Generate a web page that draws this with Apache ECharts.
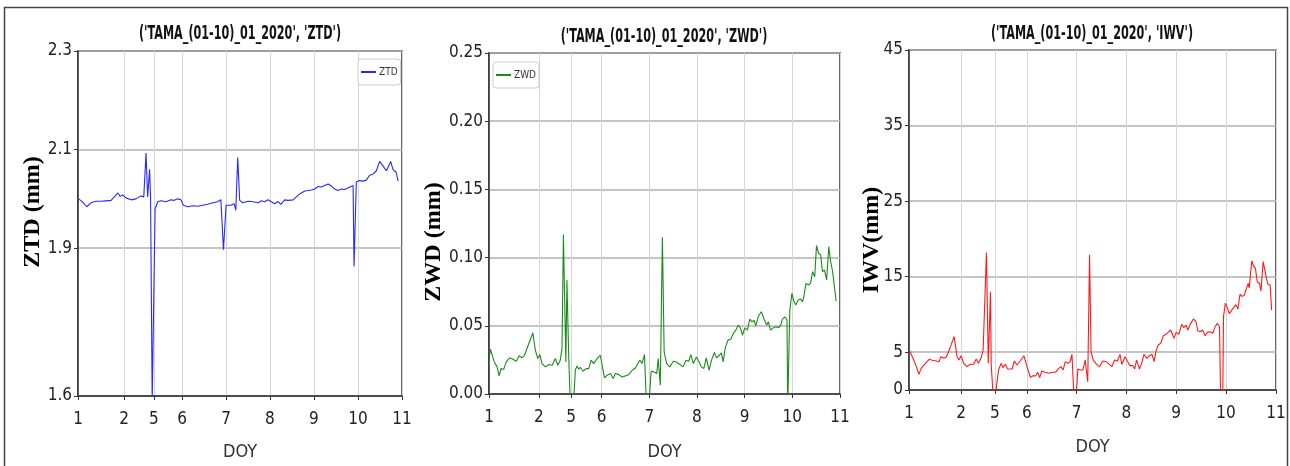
<!DOCTYPE html>
<html>
<head>
<meta charset="utf-8">
<script src="https://cdn.jsdelivr.net/npm/echarts@6/dist/echarts.min.js"></script>
<style>
  html, body { margin: 0; padding: 0; background: #fff; }
  #main { width: 1290px; height: 466px; }
</style>
</head>
<body>
<div id="main"></div>
<script>
// x is the position along the DOY axis (0..100 of the span), ticks are unevenly spaced
var xTickPos = [0, 14.2, 23.4, 32.1, 45.7, 59.2, 72.8, 86.4, 100];
var xTickLabels = ['1', '2', '5', '6', '7', '8', '9', '10', '11'];

var ztdTicks = [1.6, 1.9, 2.1, 2.3];
var iwvTicks = [0, 5, 15, 25, 35, 45];

var titles = ["('TAMA_(01-10)_01_2020', 'ZTD')", "('TAMA_(01-10)_01_2020', 'ZWD')", "('TAMA_(01-10)_01_2020', 'IWV')"];
var yNames = ['ZTD (mm)', 'ZWD (mm)', 'IWV(mm)'];

var ztdSeries = [
  [0.2, 2.000], [1.4, 1.994], [2.7, 1.984], [4.0, 1.992], [5.6, 1.995], [7.1, 1.995], [8.6, 1.996],
  [10.2, 1.997], [11.2, 2.004], [12.3, 2.012], [13.0, 2.005], [13.8, 2.008], [14.8, 2.002], [16.4, 1.998],
  [17.9, 2.000], [19.4, 2.006], [20.3, 2.004], [21.0, 2.093], [21.5, 2.004], [22.1, 2.060], [22.4, 2.000],
  [22.9, 1.590], [23.8, 1.980], [24.6, 1.994], [25.6, 1.996], [27.2, 1.994], [28.7, 1.998], [29.7, 1.997],
  [30.8, 2.000], [31.8, 1.998], [32.5, 1.987], [33.9, 1.984], [35.4, 1.986], [36.9, 1.985], [38.5, 1.987],
  [40.0, 1.989], [41.6, 1.992], [43.1, 1.994], [44.1, 1.998], [44.4, 1.960], [44.9, 1.897], [45.7, 1.987],
  [47.2, 1.987], [48.2, 1.990], [48.7, 1.977], [49.3, 2.084], [49.9, 1.997], [50.9, 1.992], [52.5, 1.995],
  [54.0, 1.994], [55.6, 1.992], [56.6, 1.996], [57.6, 1.994], [58.6, 1.998], [59.7, 1.994], [60.7, 1.990],
  [61.7, 1.995], [62.6, 1.989], [63.8, 1.998], [64.8, 1.997], [66.4, 1.998], [67.4, 2.004], [68.4, 2.010],
  [70.0, 2.016], [71.0, 2.017], [72.0, 2.018], [73.1, 2.020], [74.1, 2.025], [75.1, 2.024], [76.1, 2.027],
  [77.2, 2.030], [78.2, 2.026], [79.2, 2.020], [80.2, 2.017], [81.3, 2.020], [82.3, 2.019], [83.9, 2.024],
  [84.9, 2.027], [85.2, 1.863], [85.9, 2.034], [86.9, 2.037], [88.0, 2.036], [89.0, 2.038], [90.0, 2.048],
  [91.0, 2.050], [92.1, 2.057], [93.1, 2.076], [94.1, 2.067], [95.2, 2.057], [96.5, 2.076], [97.2, 2.060],
  [98.2, 2.054], [98.8, 2.036]
];

var zwdSeries = [
  [0.2, 0.0284], [0.4, 0.0329], [1.5, 0.0235], [2.3, 0.0199], [2.9, 0.0133], [3.4, 0.0186], [4.2, 0.0181],
  [4.9, 0.0235], [5.9, 0.0265], [6.8, 0.0255], [7.8, 0.0240], [8.6, 0.0280], [9.4, 0.0265], [10.1, 0.0284],
  [10.6, 0.0272], [11.6, 0.0387], [12.5, 0.0449], [13.2, 0.0321], [13.9, 0.0260], [14.5, 0.0289], [15.1, 0.0223],
  [16.1, 0.0199], [17.0, 0.0216], [18.0, 0.0211], [18.9, 0.0260], [19.6, 0.0211], [20.3, 0.0248], [20.8, 0.0333],
  [21.2, 0.1170], [21.9, 0.0235], [22.2, 0.0836], [22.7, 0.0284], [23.2, -0.0100], [24.0, -0.0100], [24.6, 0.0176],
  [25.1, 0.0206], [25.6, 0.0181], [26.0, 0.0196], [26.8, 0.0167], [27.7, 0.0186], [28.4, 0.0186], [29.1, 0.0248],
  [29.8, 0.0223], [30.8, 0.0260], [31.7, 0.0284], [32.2, 0.0284], [32.9, 0.0118], [33.6, 0.0137], [34.6, 0.0150],
  [35.4, 0.0113], [36.0, 0.0150], [37.0, 0.0142], [37.9, 0.0125], [38.9, 0.0133], [39.8, 0.0142], [40.8, 0.0174],
  [41.7, 0.0191], [42.4, 0.0223], [43.0, 0.0248], [43.6, 0.0223], [44.3, 0.0289], [44.9, -0.0100], [45.5, -0.0100],
  [46.2, 0.0167], [47.0, 0.0162], [47.8, 0.0150], [48.2, 0.0260], [48.8, 0.0064], [49.4, 0.1150], [49.9, 0.0309],
  [50.6, 0.0223], [51.5, 0.0199], [52.5, 0.0240], [53.4, 0.0235], [54.4, 0.0216], [55.3, 0.0199], [56.1, 0.0248],
  [56.9, 0.0240], [57.5, 0.0289], [58.2, 0.0223], [59.1, 0.0272], [59.9, 0.0235], [60.5, 0.0199], [61.2, 0.0186],
  [61.9, 0.0265], [62.7, 0.0174], [63.4, 0.0248], [64.2, 0.0304], [64.8, 0.0265], [65.6, 0.0284], [66.2, 0.0301],
  [66.7, 0.0235], [67.3, 0.0338], [68.1, 0.0395], [68.9, 0.0402], [69.6, 0.0444], [70.3, 0.0468], [71.0, 0.0505],
  [71.7, 0.0480], [72.2, 0.0431], [72.9, 0.0485], [73.6, 0.0468], [74.3, 0.0549], [74.9, 0.0529], [75.5, 0.0542],
  [76.0, 0.0500], [76.8, 0.0574], [77.6, 0.0603], [78.3, 0.0554], [79.1, 0.0505], [79.6, 0.0529], [80.2, 0.0468],
  [81.0, 0.0485], [81.8, 0.0493], [82.5, 0.0485], [83.1, 0.0505], [83.6, 0.0549], [84.3, 0.0566], [84.9, 0.0542],
  [85.1, -0.0100], [85.5, -0.0100], [85.7, 0.0615], [86.3, 0.0738], [86.9, 0.0676], [87.4, 0.0652], [88.1, 0.0689],
  [88.8, 0.0696], [89.3, 0.0676], [89.7, 0.0713], [90.3, 0.0811], [91.0, 0.0799], [91.6, 0.0811], [92.2, 0.0897],
  [92.8, 0.0860], [93.3, 0.1088], [93.9, 0.1032], [94.5, 0.1020], [95.0, 0.0897], [95.6, 0.0909], [96.2, 0.0836],
  [96.8, 0.1080], [97.3, 0.0975], [97.9, 0.0897], [98.4, 0.0885], [98.9, 0.0681]
];

var iwvSeries = [
  [0.2, 5.16], [0.5, 5.30], [1.3, 3.97], [2.0, 3.09], [2.7, 2.07], [3.3, 2.87], [3.8, 2.65], [4.5, 3.53],
  [5.5, 4.06], [6.3, 3.93], [7.4, 3.84], [8.2, 3.75], [8.7, 4.41], [9.5, 4.19], [10.2, 4.37], [10.7, 4.19],
  [11.3, 5.74], [12.3, 7.06], [13.1, 4.41], [13.6, 3.97], [14.2, 4.54], [14.9, 3.53], [15.8, 3.09], [16.7, 3.40],
  [17.6, 3.40], [18.3, 4.10], [18.9, 3.53], [19.6, 4.19], [20.2, 5.29], [21.1, 18.2], [21.6, 3.53], [22.2, 13.0],
  [22.4, 3.30], [22.9, -0.5], [23.6, -0.5], [24.4, 2.65], [25.1, 3.53], [25.6, 2.96], [26.2, 3.40], [26.9, 2.78],
  [28.1, 2.78], [28.7, 3.84], [29.4, 3.31], [30.3, 3.84], [31.3, 4.54], [31.8, 4.63], [32.3, 2.87], [33.1, 1.63],
  [33.8, 1.90], [34.5, 1.85], [35.1, 2.34], [35.6, 1.63], [36.2, 2.51], [37.1, 2.34], [38.1, 2.21], [39.0, 2.34],
  [39.9, 2.34], [40.8, 2.87], [41.4, 3.09], [42.0, 2.65], [42.6, 3.75], [43.2, 3.53], [43.9, 3.75], [44.4, 4.72],
  [44.9, -0.5], [45.6, -0.5], [46.0, 2.78], [46.7, 2.65], [47.4, 2.65], [48.0, 3.97], [48.7, 1.10], [49.2, 17.9],
  [49.6, 5.07], [50.2, 3.97], [51.1, 3.40], [51.9, 3.09], [52.8, 3.84], [53.7, 3.75], [54.6, 3.40], [55.3, 3.09],
  [56.0, 3.97], [56.8, 3.84], [57.5, 4.72], [58.0, 3.40], [58.9, 4.41], [59.5, 3.84], [60.2, 3.22], [61.0, 3.22],
  [61.5, 2.78], [62.0, 3.97], [62.8, 2.78], [63.4, 3.53], [64.0, 4.72], [64.8, 4.19], [65.5, 4.54], [66.2, 4.72],
  [66.8, 3.75], [67.3, 5.16], [67.9, 5.96], [68.6, 6.18], [69.3, 7.19], [70.0, 7.37], [70.6, 7.63], [71.3, 7.94],
  [72.2, 6.84], [72.8, 7.63], [73.5, 7.37], [74.3, 8.69], [74.9, 8.25], [75.5, 8.60], [76.0, 7.94], [76.6, 8.69],
  [77.5, 9.40], [78.2, 9.04], [78.7, 7.81], [79.3, 7.72], [80.0, 7.94], [80.7, 7.19], [81.3, 7.63], [82.0, 7.72],
  [82.8, 7.50], [83.4, 8.38], [84.0, 8.82], [84.6, 8.38], [84.9, -0.5], [85.5, -0.5], [85.7, 9.71], [86.2, 11.5],
  [86.8, 10.8], [87.3, 10.1], [88.0, 10.6], [88.6, 11.0], [89.1, 11.3], [89.6, 10.7], [90.2, 12.7], [90.7, 12.4],
  [91.3, 12.5], [91.8, 12.6], [92.4, 14.1], [92.7, 13.5], [93.4, 17.1], [93.8, 16.5], [94.4, 16.1], [94.9, 14.3],
  [95.5, 14.1], [95.9, 13.1], [96.5, 17.0], [97.3, 15.0], [97.8, 14.0], [98.4, 13.9], [98.8, 10.6]
];

var tickFont = "'DejaVu Sans Condensed', 'DejaVu Sans', sans-serif";

function xAxisFor(idx, gap) {
    return {
        type: 'value', gridIndex: idx, min: 0, max: 100,
        axisLine: { show: true, onZero: false, lineStyle: { color: '#333', width: 1.5 } },
        axisTick: { show: true, length: 4, customValues: xTickPos, lineStyle: { color: '#333' } },
        axisLabel: {
            customValues: xTickPos, margin: 15, color: '#222', fontSize: 17, fontFamily: tickFont,
            formatter: function(v) {
                for (var i = 0; i < xTickPos.length; i++) {
                    if (Math.abs(xTickPos[i] - v) < 0.01) return xTickLabels[i];
                }
                return '';
            }
        },
        splitLine: { show: true, lineStyle: { color: '#d6d6d6', width: 1 } },
        name: 'DOY', nameLocation: 'middle', nameGap: gap,
        nameTextStyle: { color: '#333', fontSize: 18, fontFamily: tickFont }
    };
}

function yAxisFor(idx, opts) {
    var ax = {
        type: 'value', gridIndex: idx, min: opts.min, max: opts.max,
        axisLine: { show: true, onZero: false, lineStyle: { color: '#333', width: 1.5 } },
        axisTick: { show: true, length: 4, lineStyle: { color: '#333' } },
        axisLabel: { margin: 6, color: '#222', fontSize: 17, fontFamily: tickFont },
        splitLine: { show: true, lineStyle: { color: '#b0b0b0', width: 1.5 } }
    };
    if (opts.ticks) {
        ax.axisTick.customValues = opts.ticks;
        ax.axisLabel.customValues = opts.ticks;
    }
    if (opts.interval) ax.interval = opts.interval;
    if (opts.formatter) ax.axisLabel.formatter = opts.formatter;
    return ax;
}

var grids = [
    { left: 78, top: 51, width: 324, height: 345 },
    { left: 489, top: 53, width: 351, height: 345 },
    { left: 909, top: 50, width: 367, height: 340 }
];

grids.forEach(function(g) {
    g.show = true;
    g.borderColor = '#333';
    g.borderWidth = 1.5;
    g.backgroundColor = '#fff';
});

function lineSeries(name, idx, data, color) {
    return {
        name: name, type: 'line', xAxisIndex: idx, yAxisIndex: idx,
        data: data, showSymbol: false, symbol: 'none', clip: true,
        lineStyle: { color: color, width: 1.1 }, itemStyle: { color: color },
        animation: false
    };
}

var legendBase = {
    orient: 'vertical', icon: 'rect', itemWidth: 15, itemHeight: 2, itemGap: 4,
    borderColor: '#ccc', borderWidth: 1, borderRadius: 3, padding: [8, 3, 8, 3],
    backgroundColor: '#fff',
    textStyle: { fontSize: 10, color: '#333', fontFamily: tickFont, padding: [0, 0, 0, -2] }
};

function titleText(i, x, y) {
    return {
        type: 'text', x: x, y: y, scaleX: 0.56,
        style: { text: titles[i], textAlign: 'center', textVerticalAlign: 'middle', font: "bold 20px 'DejaVu Sans', sans-serif", fill: '#111' }
    };
}

function yNameText(i, x, y) {
    return {
        type: 'text', x: x, y: y, rotation: Math.PI / 2,
        style: { text: yNames[i], textAlign: 'center', textVerticalAlign: 'middle', font: "bold 24px 'Liberation Serif', serif", fill: '#000' }
    };
}

var myChart = echarts.init(document.getElementById('main'));

var option = {
    animation: false,
    grid: grids,
    xAxis: [xAxisFor(0, 47), xAxisFor(1, 49), xAxisFor(2, 48)],
    yAxis: [
        yAxisFor(0, { min: 1.6, max: 2.3, ticks: ztdTicks, formatter: function(v) { return v.toFixed(1); } }),
        yAxisFor(1, { min: 0, max: 0.25, interval: 0.05, formatter: function(v) { return v.toFixed(2); } }),
        yAxisFor(2, { min: 0, max: 45, ticks: iwvTicks })
    ],
    legend: [
        Object.assign({}, legendBase, { data: ['ZTD'], left: 358, top: 59 }),
        Object.assign({}, legendBase, { data: ['ZWD'], left: 493, top: 62 })
    ],
    series: [
        lineSeries('ZTD', 0, ztdSeries, '#2828ff'),
        lineSeries('ZWD', 1, zwdSeries, '#1a8c1a'),
        lineSeries('IWV', 2, iwvSeries, '#ff1a1a')
    ],
    graphic: [
        { type: 'rect', shape: { x: 4.5, y: 7.5, width: 1283, height: 480 }, style: { fill: 'none', stroke: '#444', lineWidth: 1.5 }, z: 100 },
        titleText(0, 240, 34),
        titleText(1, 664, 37),
        titleText(2, 1092, 34),
        yNameText(0, 33, 212),
        yNameText(1, 434, 242),
        yNameText(2, 872, 240)
    ]
};

myChart.setOption(option);
</script>
</body>
</html>
